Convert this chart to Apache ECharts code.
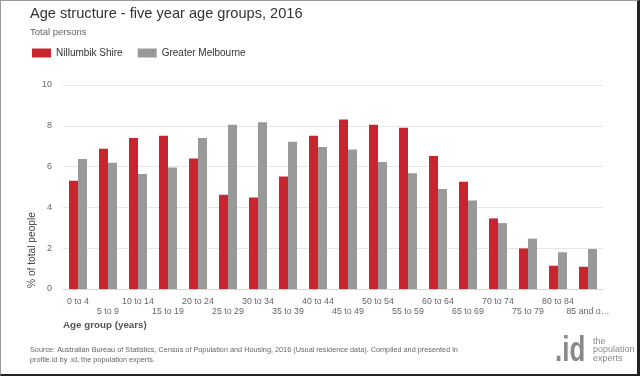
<!DOCTYPE html>
<html><head><meta charset="utf-8">
<script src="https://cdn.jsdelivr.net/npm/echarts@6/dist/echarts.min.js"></script>
<style>
html,body{margin:0;padding:0;background:#fff;}
#wrap{width:640px;height:376px;box-sizing:border-box;border-left:1px solid #999;border-top:1px solid #999;border-right:3px solid #222;border-bottom:2px solid #222;position:relative;overflow:hidden;}
#c{position:absolute;left:-1px;top:-1px;width:640px;height:376px;}
</style></head>
<body><div id="wrap"><div id="c"></div></div>
<script>
const categories = ['0 to 4','5 to 9','10 to 14','15 to 19','20 to 24','25 to 29','30 to 34','35 to 39','40 to 44','45 to 49','50 to 54','55 to 59','60 to 64','65 to 69','70 to 74','75 to 79','80 to 84','85 and over'];
const nillumbik = [5.31,6.88,7.40,7.51,6.40,4.62,4.49,5.52,7.51,8.31,8.05,7.91,6.52,5.26,3.46,1.99,1.14,1.09];
const melbourne = [6.37,6.19,5.64,5.96,7.40,8.05,8.17,7.22,6.96,6.84,6.22,5.67,4.90,4.34,3.23,2.47,1.80,1.96];
const yTicks = [0,2,4,6,8,10];
const FONT = "'Liberation Sans', Arial, sans-serif";
const chart = echarts.init(document.getElementById('c'), null, {renderer:'canvas'});
chart.setOption({
  animation:false,
  textStyle:{fontFamily:FONT},
  title:{text:'Age structure - five year age groups, 2016', left:30, top:6, padding:0,
    textStyle:{fontFamily:FONT,fontSize:14.6,lineHeight:16,fontWeight:'normal',color:'#333'},
    subtext:'Total persons', itemGap:5,
    subtextStyle:{fontFamily:FONT,fontSize:9.5,lineHeight:11,color:'#666'}},
  legend:{left:32, top:47, padding:0, itemWidth:19, itemHeight:9, itemGap:15, icon:'rect',
    textStyle:{fontFamily:FONT,fontSize:10,lineHeight:12,color:'#333'},
    data:['Nillumbik Shire','Greater Melbourne']},
  grid:{left:63, right:37, top:85, bottom:87},
  xAxis:{type:'category', data:categories,
    axisLine:{lineStyle:{color:'#ccd6eb'}},
    axisTick:{alignWithLabel:true, length:6, lineStyle:{color:'#ccd6eb'}},
    axisLabel:{interval:0, margin:8, color:'#666', fontSize:8.8, fontFamily:FONT, lineHeight:10,
      formatter:function(v,i){ let t = v==='85 and over' ? '85 and o…' : v; return i%2 ? '\n'+t : t; }}},
  yAxis:{type:'value', min:yTicks[0], max:yTicks[yTicks.length-1], interval:2,
    axisLabel:{color:'#666', fontSize:9, fontFamily:FONT, margin:11},
    splitLine:{lineStyle:{color:'#e6e6e6'}}},
  series:[
    {name:'Nillumbik Shire', type:'bar', data:nillumbik, barWidth:9, barGap:'0%', itemStyle:{color:'#c9252f'}},
    {name:'Greater Melbourne', type:'bar', data:melbourne, barWidth:9, barGap:'0%', itemStyle:{color:'#999999'}}
  ],
  graphic:[
    {type:'text', x:32, y:288, rotation:Math.PI/2, style:{text:'% of total people', fontFamily:FONT, fontSize:10.2, fill:'#444', align:'left', verticalAlign:'middle'}},
    {type:'text', x:63, y:325, style:{text:'Age group (years)', fontFamily:FONT, fontSize:9.8, fontWeight:'bold', fill:'#555', align:'left', verticalAlign:'middle'}},
    {type:'text', x:30, y:345, style:{text:'Source: Australian Bureau of Statistics, Census of Population and Housing, 2016 (Usual residence data). Compiled and presented in\nprofile.id by .id, the population experts.', fontFamily:FONT, fontSize:7.3, lineHeight:10, fill:'#666', align:'left', verticalAlign:'top'}},
    {type:'text', x:555, y:351, scaleX:0.74, style:{text:'.id', fontFamily:FONT, fontSize:35, fontWeight:'bold', fill:'#8a8a8a', align:'left', verticalAlign:'middle'}},
    {type:'text', x:593, y:337, style:{text:'the\npopulation\nexperts', fontFamily:FONT, fontSize:9, lineHeight:8.5, fill:'#8a8a8a', align:'left', verticalAlign:'top'}}
  ]
});
</script></body></html>
